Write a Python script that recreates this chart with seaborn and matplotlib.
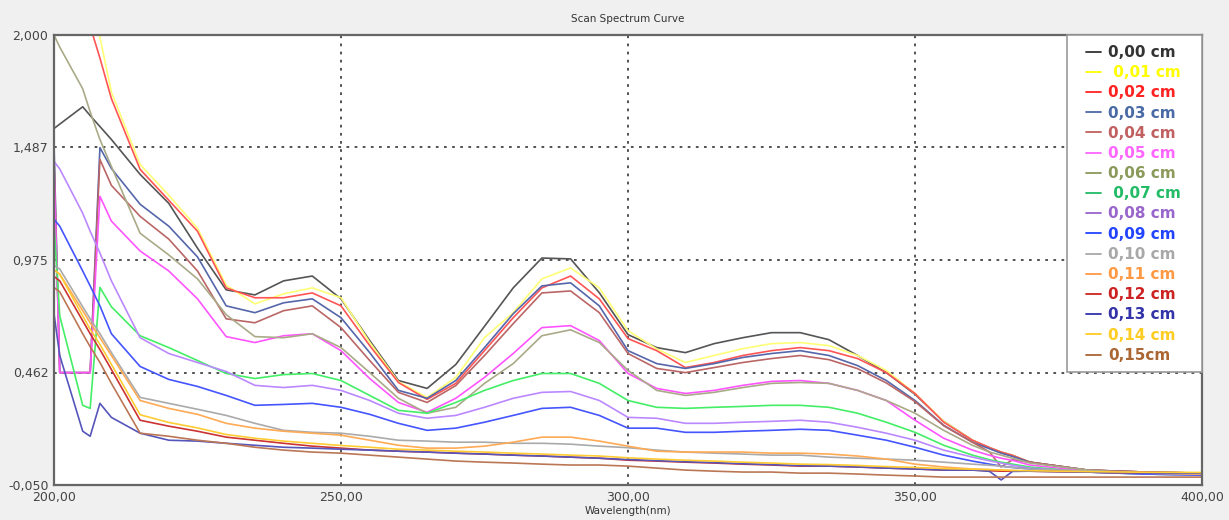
import numpy as np
import pandas as pd
import matplotlib
matplotlib.use("Agg")
import matplotlib.pyplot as plt
from matplotlib.lines import Line2D
from matplotlib.patches import Rectangle
import seaborn as sns

wavelength = [200, 201, 205, 206.3, 208, 210, 215, 220, 225, 230, 235, 240, 245, 250, 255,
              260, 265, 270, 275, 280, 285, 290, 295, 300, 305, 310, 315, 320, 325, 330,
              335, 340, 345, 350, 355, 360, 363, 365, 367, 370, 380, 390, 400]

labels = ["0,00 cm", " 0,01 cm", "0,02 cm", "0,03 cm", "0,04 cm", "0,05 cm", "0,06 cm",
          " 0,07 cm", "0,08 cm", "0,09 cm", "0,10 cm", "0,11 cm", "0,12 cm", "0,13 cm",
          "0,14 cm", "0,15cm"]

s00 = [1.574, 1.594, 1.673, 1.633, 1.583, 1.524, 1.365, 1.233, 1.029, 0.839, 0.816, 0.880, 0.902, 0.798, 0.608,
       0.426, 0.390, 0.499, 0.673, 0.848, 0.984, 0.980, 0.826, 0.635, 0.576, 0.553, 0.594, 0.621, 0.644, 0.644,
       0.612, 0.540, 0.462, 0.363, 0.240, 0.154, 0.120, 0.100, 0.085, 0.054, 0.018, 0.009, 0.004]
s01 = [2.50, 2.45, 2.25, 2.12, 1.99, 1.74, 1.41, 1.27, 1.12, 0.86, 0.775, 0.821, 0.848, 0.803, 0.600,
       0.420, 0.349, 0.440, 0.621, 0.735, 0.889, 0.939, 0.848, 0.653, 0.570, 0.508, 0.540, 0.571, 0.594, 0.599,
       0.585, 0.540, 0.472, 0.367, 0.240, 0.154, 0.120, 0.100, 0.085, 0.054, 0.018, 0.009, 0.004]
s02 = [2.40, 2.35, 2.15, 2.04, 1.895, 1.71, 1.388, 1.247, 1.106, 0.848, 0.803, 0.803, 0.825, 0.766, 0.585,
       0.417, 0.340, 0.413, 0.562, 0.712, 0.848, 0.902, 0.798, 0.617, 0.562, 0.485, 0.508, 0.540, 0.562, 0.576,
       0.562, 0.526, 0.462, 0.367, 0.236, 0.154, 0.120, 0.100, 0.085, 0.054, 0.018, 0.009, 0.004]
s03 = [1.50, 0.462, 0.462, 0.462, 1.487, 1.392, 1.229, 1.129, 0.989, 0.766, 0.735, 0.780, 0.798, 0.712, 0.553,
       0.381, 0.345, 0.426, 0.576, 0.730, 0.857, 0.871, 0.766, 0.562, 0.503, 0.481, 0.503, 0.531, 0.549, 0.562,
       0.540, 0.494, 0.426, 0.335, 0.222, 0.145, 0.115, 0.095, 0.080, 0.054, 0.018, 0.009, 0.004]
s04 = [1.45, 0.462, 0.462, 0.462, 1.433, 1.315, 1.174, 1.070, 0.925, 0.707, 0.689, 0.744, 0.766, 0.667, 0.517,
       0.372, 0.326, 0.403, 0.540, 0.685, 0.825, 0.834, 0.735, 0.549, 0.481, 0.462, 0.485, 0.508, 0.526, 0.540,
       0.521, 0.480, 0.415, 0.330, 0.220, 0.145, 0.100, 0.032, 0.065, 0.054, 0.018, 0.009, 0.004]
s05 = [1.40, 0.462, 0.462, 0.462, 1.265, 1.152, 1.016, 0.925, 0.798, 0.626, 0.599, 0.630, 0.639, 0.562, 0.435,
       0.326, 0.281, 0.345, 0.440, 0.549, 0.667, 0.676, 0.608, 0.458, 0.390, 0.367, 0.381, 0.404, 0.422, 0.426,
       0.413, 0.381, 0.335, 0.245, 0.163, 0.109, 0.085, 0.072, 0.062, 0.041, 0.013, 0.004, 0.000]
s06 = [2.00, 1.945, 1.755, 1.65, 1.524, 1.401, 1.097, 0.998, 0.889, 0.726, 0.626, 0.621, 0.639, 0.576, 0.462,
       0.345, 0.277, 0.304, 0.413, 0.503, 0.630, 0.657, 0.599, 0.472, 0.381, 0.358, 0.372, 0.394, 0.413, 0.417,
       0.413, 0.381, 0.335, 0.277, 0.199, 0.131, 0.100, 0.086, 0.072, 0.050, 0.018, 0.004, 0.000]
s07 = [1.14, 0.72, 0.313, 0.299, 0.85, 0.762, 0.630, 0.576, 0.517, 0.458, 0.435, 0.453, 0.458, 0.426, 0.358,
       0.290, 0.277, 0.326, 0.381, 0.426, 0.458, 0.458, 0.413, 0.335, 0.304, 0.299, 0.304, 0.308, 0.313, 0.313,
       0.304, 0.277, 0.236, 0.190, 0.131, 0.086, 0.065, 0.054, 0.045, 0.032, 0.009, 0.000, -0.005]
s08 = [1.424, 1.39, 1.188, 1.106, 1.007, 0.880, 0.621, 0.549, 0.508, 0.467, 0.404, 0.394, 0.404, 0.381, 0.335,
       0.277, 0.254, 0.267, 0.304, 0.345, 0.372, 0.376, 0.335, 0.258, 0.254, 0.231, 0.231, 0.236, 0.240, 0.245,
       0.236, 0.213, 0.186, 0.154, 0.109, 0.077, 0.060, 0.050, 0.040, 0.027, 0.009, 0.000, -0.005]
s09 = [1.161, 1.129, 0.925, 0.857, 0.766, 0.639, 0.490, 0.431, 0.399, 0.358, 0.313, 0.317, 0.322, 0.304, 0.272,
       0.231, 0.199, 0.209, 0.236, 0.267, 0.299, 0.304, 0.267, 0.209, 0.209, 0.190, 0.190, 0.195, 0.199, 0.204,
       0.199, 0.177, 0.154, 0.122, 0.086, 0.059, 0.045, 0.036, 0.030, 0.023, 0.009, 0.000, -0.005]
s10 = [0.95, 0.934, 0.762, 0.707, 0.639, 0.553, 0.349, 0.322, 0.295, 0.267, 0.231, 0.199, 0.190, 0.186, 0.172,
       0.154, 0.150, 0.145, 0.145, 0.140, 0.140, 0.136, 0.127, 0.120, 0.109, 0.100, 0.095, 0.091, 0.086, 0.086,
       0.077, 0.072, 0.068, 0.063, 0.054, 0.045, 0.040, 0.036, 0.030, 0.023, 0.013, 0.004, 0.000]
s11 = [0.93, 0.911, 0.744, 0.689, 0.621, 0.540, 0.335, 0.299, 0.272, 0.231, 0.209, 0.195, 0.186, 0.177, 0.154,
       0.131, 0.118, 0.118, 0.127, 0.145, 0.168, 0.168, 0.150, 0.127, 0.104, 0.100, 0.100, 0.100, 0.095, 0.095,
       0.091, 0.082, 0.068, 0.045, 0.032, 0.023, 0.020, 0.018, 0.016, 0.013, 0.009, 0.004, 0.000]
s12 = [0.90, 0.88, 0.698, 0.639, 0.567, 0.476, 0.245, 0.218, 0.195, 0.168, 0.154, 0.140, 0.127, 0.118, 0.109,
       0.104, 0.100, 0.095, 0.091, 0.086, 0.082, 0.077, 0.072, 0.063, 0.059, 0.054, 0.050, 0.045, 0.041, 0.036,
       0.036, 0.032, 0.027, 0.023, 0.018, 0.018, 0.015, 0.013, 0.013, 0.013, 0.009, 0.004, 0.004]
s13 = [0.73, 0.54, 0.195, 0.172, 0.322, 0.258, 0.186, 0.154, 0.150, 0.140, 0.131, 0.122, 0.118, 0.113, 0.109,
       0.104, 0.100, 0.095, 0.091, 0.086, 0.082, 0.077, 0.072, 0.066, 0.061, 0.056, 0.052, 0.047, 0.043, 0.038,
       0.036, 0.032, 0.027, 0.023, 0.018, 0.018, 0.012, -0.027, 0.012, 0.013, 0.009, 0.004, 0.004]
s14 = [0.93, 0.91, 0.72, 0.66, 0.59, 0.50, 0.27, 0.235, 0.21, 0.18, 0.163, 0.150, 0.140, 0.130, 0.122,
       0.113, 0.109, 0.104, 0.100, 0.095, 0.091, 0.086, 0.082, 0.074, 0.068, 0.063, 0.059, 0.054, 0.050, 0.045,
       0.043, 0.039, 0.034, 0.030, 0.025, 0.022, 0.020, 0.018, 0.016, 0.015, 0.011, 0.008, 0.007]
s15 = [0.85, 0.83, 0.639, 0.580, 0.508, 0.413, 0.186, 0.172, 0.154, 0.140, 0.122, 0.109, 0.100, 0.095, 0.086,
       0.077, 0.068, 0.059, 0.054, 0.050, 0.045, 0.041, 0.041, 0.036, 0.027, 0.018, 0.013, 0.009, 0.009, 0.004,
       0.004, 0.000, -0.005, -0.009, -0.014, -0.014, -0.014, -0.014, -0.014, -0.014, -0.014, -0.014, -0.014]

series = [s00, s01, s02, s03, s04, s05, s06, s07, s08, s09, s10, s11, s12, s13, s14, s15]

line_colors = ["#555555", "#ffff77", "#ff5555", "#5566aa", "#bb6666", "#ff55ff", "#aaaa88", "#44ee66",
               "#bb88ff", "#4455ff", "#aaaaaa", "#ffaa55", "#cc3333", "#5555bb", "#ffcc33", "#bb7755"]
text_colors = ["#333333", "#ffff00", "#ff2222", "#4a6aa5", "#c06060", "#ff66ff", "#8a9a5b", "#22bb66",
               "#9966cc", "#2244ff", "#a8a8a8", "#ff9944", "#cc2222", "#3333aa", "#ffcc22", "#aa6633"]

y_ticks = [-0.05, 0.4625, 0.975, 1.4875, 2.0]
y_tick_labels = ["-0,050", "0,462", "0,975", "1,487", "2,000"]
x_ticks = [200, 250, 300, 350, 400]
x_tick_labels = ["200,00", "250,00", "300,00", "350,00", "400,00"]

rows = []
for lab, vals in zip(labels, series):
    for w, v in zip(wavelength, vals):
        rows.append((w, v, lab))
df = pd.DataFrame(rows, columns=["Wavelength", "Abs", "Depth"])

sns.set_style("white")
plt.rcParams["font.family"] = ["DejaVu Sans"]

fig = plt.figure(figsize=(12.29, 5.20), dpi=100, facecolor="#f0f0f0")
ax = fig.add_axes([54 / 1229, 35 / 520, 1148 / 1229, 450 / 520])
ax.set_facecolor("white")

palette = dict(zip(labels, line_colors))
sns.lineplot(data=df, x="Wavelength", y="Abs", hue="Depth", palette=palette,
             estimator=None, sort=False, legend=False, linewidth=1.2, ax=ax)

ax.set_xlim(200, 400)
ax.set_ylim(-0.05, 2.0)
ax.set_xticks(x_ticks)
ax.set_xticklabels(x_tick_labels)
ax.set_yticks(y_ticks)
ax.set_yticklabels(y_tick_labels)
ax.tick_params(length=0, labelsize=9, colors="#444444", pad=4)
ax.grid(True, linestyle=(0, (1.5, 3)), color="#444444", linewidth=1.3)
for sp in ax.spines.values():
    sp.set_color("#666666")
    sp.set_linewidth(1.6)
ax.set_xlabel("Wavelength(nm)", fontsize=7.5, color="#333333", labelpad=2)
ax.set_ylabel("")
ax.set_title("Scan Spectrum Curve", fontsize=7.5, color="#333333", pad=9)

# legend box drawn as a panel, entries placed inside it
box_x0 = (1067 - 54) / 1148
box_y0 = (485 - 372) / 450
ax.add_patch(Rectangle((box_x0, box_y0), 1 - box_x0, 1 - box_y0, transform=ax.transAxes,
                       facecolor="white", edgecolor="#999999", linewidth=1.2, zorder=4,
                       clip_on=False))
handles = [Line2D([0], [0], color=c, lw=1.3) for c in text_colors]
leg = ax.legend(handles, labels, loc="upper left",
                bbox_to_anchor=((1076 - 54) / 1148, 1.0),
                borderaxespad=0, frameon=False,
                prop={"size": 11, "weight": "bold"}, labelspacing=0.34,
                handlelength=1.0, handletextpad=0.45, borderpad=0.65)
leg.set_zorder(5)
for t, c in zip(leg.get_texts(), text_colors):
    t.set_color(c)

fig.savefig("out.png", dpi=100, facecolor=fig.get_facecolor())
